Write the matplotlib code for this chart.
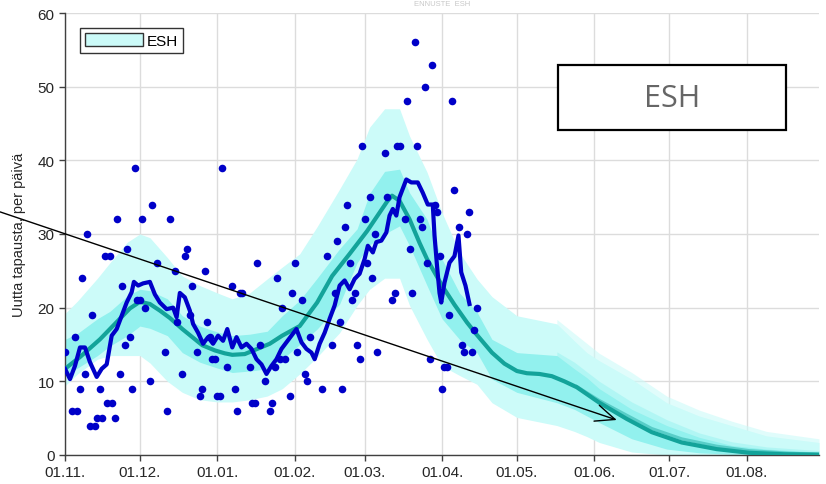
"""ESH daily case forecast chart (recreated)."""

import matplotlib

matplotlib.use("Agg")
import matplotlib.pyplot as plt
from matplotlib.patches import Patch, Rectangle

# days counted from 01.11.
tick_days = [0, 30, 61, 92, 120, 151, 181, 212, 242, 273]
tick_labels = ["01.11.", "01.12.", "01.01.", "01.02.", "01.03.",
               "01.04.", "01.05.", "01.06.", "01.07.", "01.08."]

# observed daily cases
obs_days = [0, 3, 4, 5, 6, 7, 8, 9, 10, 11, 12, 13, 14, 15, 16, 17, 18, 19, 20,
            21, 22, 23, 24, 25, 26, 27, 28, 29, 30, 31, 32, 34, 35, 37, 40, 41,
            42, 44, 45, 47, 48, 49, 50, 51, 53, 54, 55, 56, 57, 58, 59, 60, 61,
            62, 63, 65, 67, 68, 69, 70, 71, 74, 75, 76, 77, 78, 80, 82, 83, 84,
            85, 86, 87, 88, 90, 91, 92, 93, 95, 96, 97, 98, 103, 105, 107, 108,
            109, 110, 111, 112, 113, 114, 115, 116, 117, 118, 119, 120, 121,
            122, 123, 124, 125, 128, 129, 131, 132, 133, 134, 136, 137, 138,
            139, 140, 141, 142, 143, 144, 145, 146, 147, 148, 149, 150, 151,
            152, 153, 154, 155, 156, 158, 159, 160, 161, 162, 163, 164, 165]
obs_cases = [14, 6, 16, 6, 9, 24, 11, 30, 4, 19, 4, 5, 9, 5, 27, 7, 27, 7, 5,
             32, 11, 23, 15, 28, 16, 9, 39, 21, 21, 32, 20, 10, 34, 26, 14, 6,
             32, 25, 18, 11, 27, 28, 19, 23, 14, 8, 9, 25, 18, 16, 13, 13, 8,
             8, 39, 12, 23, 9, 6, 22, 22, 12, 7, 7, 26, 15, 10, 6, 7, 12,
             24, 13, 20, 13, 8, 22, 26, 14, 21, 11, 10, 16, 9, 27, 15, 22,
             29, 18, 9, 31, 34, 26, 21, 22, 15, 13, 42, 32, 26,
             35, 24, 30, 14, 41, 35, 21, 22, 42, 42, 32, 48, 28,
             22, 56, 42, 32, 31, 50, 26, 13, 53, 34, 33, 27, 9,
             12, 12, 19, 48, 36, 31, 15, 14, 30, 33, 14, 17, 20]

# 7-day mean of observations
avg_days = [0, 2, 4, 6, 8, 10, 12.7, 14.7, 16.7, 18.7, 20.7, 22.7, 24.7, 26.7,
            27.6, 29.3, 31.3, 34, 36, 38, 40.7, 43.3, 44.7, 46, 48, 50, 51.3,
            53.3, 55.3, 57.3, 59.3, 61.3, 63.3, 65, 67, 68.7, 70.7, 72.7, 74.7,
            76.7, 78.7, 80.7, 82.7, 84.7, 86.7, 88.7, 90.7, 92.7, 94.7, 96.7,
            98.7, 100, 102, 104, 106, 108, 110, 112, 114, 116, 118, 120, 121.3,
            123.3, 124.7, 126.7, 128.7, 130, 131.3, 132.7, 134, 136.7, 138.7,
            141.3, 143.3, 145.3, 147.3, 148, 149, 150, 150.7, 152, 154, 156,
            157.6, 158.7, 160.4, 162]
avg_cases = [11.7, 10.3, 12.1, 14.6, 14.6, 12.6, 10.6, 11.7, 12.3, 16.2, 17.1,
             18.9, 20.7, 22.1, 23.5, 23.0, 23.3, 23.5, 21.8, 20.7, 19.8, 20.0,
             18.7, 22.0, 21.4, 19.6, 17.8, 16.6, 15.1, 16.0, 15.1, 16.2, 15.5,
             17.1, 14.6, 16.0, 14.6, 15.1, 14.4, 13.0, 12.3, 11.0, 12.1, 13.0,
             14.4, 15.3, 16.2, 17.1, 15.3, 14.4, 13.9, 13.0, 15.1, 16.6, 18.5,
             20.3, 23.0, 23.7, 22.5, 23.9, 24.6, 26.6, 28.4, 27.5, 28.9, 29.1,
             30.2, 32.5, 33.4, 32.5, 35.0, 37.4, 37.0, 37.0, 35.6, 34.0, 34.0,
             29.8, 25.7, 22.0, 20.7, 23.4, 26.1, 27.0, 29.8, 24.8, 23.0, 20.5]

# model median
med_days = [0, 6, 14, 22, 26, 30, 34, 38, 42, 47, 51, 55, 60, 64, 67, 72, 77,
            82, 87, 94, 101, 107, 114, 121, 126, 129, 131, 134, 138, 142, 145,
            151, 156, 161, 165, 171, 176, 181, 185, 190, 195, 200, 205, 214,
            225, 235, 247, 261, 274, 288, 302]
med_cases = [11.7, 13.3, 15.7, 18.5, 19.9, 20.8, 20.5, 19.6, 18.6, 17.1, 16.0,
             14.9, 14.2, 13.8, 13.6, 13.7, 14.4, 15.1, 16.2, 17.5, 20.7, 24.3,
             27.3, 30.4, 32.9, 34.4, 35.2, 34.5, 32.0, 28.8, 26.6, 23.0, 20.4,
             18.0, 16.3, 13.9, 12.4, 11.4, 11.1, 11.0, 10.7, 10.0, 9.2, 7.1,
             4.9, 3.1, 1.7, 0.8, 0.3, 0.1, 0.05]

# second model run (tail only)
alt_days = [205, 214, 225, 235, 247, 261, 274, 290, 302]
alt_cases = [9.3, 7.4, 5.4, 3.6, 2.2, 1.2, 0.6, 0.25, 0.1]

# uncertainty bands
band_days = [0, 5, 13, 18, 25, 30, 34, 41, 47, 54, 61, 67, 74, 81, 87, 94,
             101, 110, 117, 122, 128, 134, 138, 145, 151, 158, 165, 171, 181,
             197, 204, 209, 214, 227, 241, 254, 267, 281, 302]
outer_hi = [19.2, 20.9, 24.0, 26.1, 28.9, 30.0, 29.5, 26.8, 24.3, 23.0, 22.0,
            21.2, 22.0, 23.9, 25.5, 27.3, 31.0, 36.1, 40.2, 44.5, 47.0, 47.0,
            43.3, 38.4, 32.9, 27.5, 23.9, 21.5, 18.9, 17.8, 15.5, 13.9, 12.8,
            10.3, 7.1, 5.3, 4.0, 2.6, 1.7]
outer_lo = [9.4, 11.0, 13.0, 13.5, 13.5, 13.5, 12.5, 10.0, 8.5, 7.5, 7.2,
            7.2, 7.5, 8.0, 9.0, 11.0, 13.3, 16.6, 20.3, 22.5, 24.0, 24.0,
            20.3, 15.7, 12.1, 10.8, 9.6, 7.1, 5.1, 4.0, 3.2, 2.5, 1.7, 0.4,
            0.0, 0.0, 0.0, 0.0, 0.0]
inner_hi = [15.7, 16.5, 18.5, 19.5, 21.6, 22.5, 22.3, 21.2, 18.9, 17.5, 16.7,
            16.2, 16.4, 16.8, 18.9, 21.0, 24.0, 28.0, 30.7, 35.5, 38.5, 38.8,
            35.6, 32.0, 26.6, 22.0, 19.4, 15.7, 13.9, 13.5, 11.7, 10.5, 9.0,
            6.2, 4.0, 2.4, 1.3, 0.8, 0.4]
inner_lo = [10.8, 11.8, 13.5, 14.8, 16.2, 17.5, 17.2, 16.2, 13.9, 12.6, 11.8,
            11.2, 11.4, 11.7, 13.0, 15.0, 17.1, 20.5, 26.1, 28.5, 30.0, 31.1,
            28.4, 23.0, 18.5, 15.7, 13.9, 10.3, 8.5, 7.1, 6.2, 5.3, 4.4, 2.2,
            0.8, 0.3, 0.1, 0.0, 0.0]

# second run bands (tail only)
alt_band_days = [197, 204, 214, 227, 241, 254, 267, 281, 302]
alt_outer_hi = [18.4, 16.5, 13.8, 11.2, 8.0, 6.1, 4.6, 3.2, 2.2]
alt_outer_lo = [4.6, 3.8, 2.4, 0.9, 0.2, 0.0, 0.0, 0.0, 0.0]
alt_inner_hi = [14.0, 12.6, 10.0, 7.2, 4.8, 3.0, 1.8, 1.1, 0.6]
alt_inner_lo = [7.6, 7.0, 5.3, 3.0, 1.3, 0.5, 0.2, 0.0, 0.0]

light_cyan = "#ccfbf9"
mid_cyan = "#92f1ee"
teal = "#13a39a"
blue = "#0000c8"

plt.rcParams["font.family"] = ["Liberation Sans", "DejaVu Sans"]

fig = plt.figure(figsize=(8.26, 4.85), dpi=100)
ax = fig.add_axes([65 / 826, 29 / 485, 754 / 826, 442 / 485])

ax.fill_between(band_days, outer_lo, outer_hi, color=light_cyan, lw=0, zorder=1)
ax.fill_between(alt_band_days, alt_outer_lo, alt_outer_hi, color=light_cyan,
                alpha=0.6, lw=0, zorder=1)
ax.fill_between(band_days, inner_lo, inner_hi, color=mid_cyan, lw=0, zorder=2)
ax.fill_between(alt_band_days, alt_inner_lo, alt_inner_hi, color=mid_cyan,
                alpha=0.45, lw=0, zorder=2)

ax.plot(alt_days, alt_cases, color=teal, lw=2.2, alpha=0.45, zorder=3)
ax.plot(med_days, med_cases, color=teal, lw=3, zorder=3,
        solid_capstyle="round", solid_joinstyle="round")
ax.plot(avg_days, avg_cases, color=blue, lw=3, zorder=4,
        solid_joinstyle="round")
ax.scatter(obs_days, obs_cases, s=30, color=blue, lw=0, zorder=5)

ax.annotate("", xy=(221, 4.75), xytext=(-26, 33.0),
            arrowprops=dict(arrowstyle="->,head_length=0.7,head_width=0.3",
                            color="black", lw=1, mutation_scale=20,
                            shrinkA=0, shrinkB=0),
            annotation_clip=False, zorder=6)

ax.set_xlim(0, 302)
ax.set_ylim(0, 60)
ax.set_xticks(tick_days)
ax.set_xticklabels(tick_labels)
ax.set_yticks(range(0, 61, 10))
ax.tick_params(axis="both", direction="out", length=4, width=1,
               color="#404040", labelsize=11, labelcolor="#262626")
ax.grid(True, color="#dcdcdc", lw=1)
ax.set_axisbelow(True)
for side in ("top", "right"):
    ax.spines[side].set_visible(False)
for side in ("left", "bottom"):
    ax.spines[side].set_color("#404040")
    ax.spines[side].set_linewidth(1)
ax.set_ylabel("Uutta tapausta, per päivä", fontsize=10.5, color="#262626",
              labelpad=8)

handle = Patch(facecolor=light_cyan, edgecolor="#333333", lw=1)
leg = ax.legend([handle], ["ESH"], loc="upper left", fontsize=11,
                bbox_to_anchor=(15 / 754, 1 - 15 / 442), borderaxespad=0,
                handlelength=3.8, handleheight=0.9, handletextpad=0.2,
                borderpad=0.35, fancybox=False, framealpha=1,
                edgecolor="#333333")
leg.get_frame().set_linewidth(1)

ax.add_patch(Rectangle((0.654, 0.735), 0.302, 0.147, transform=ax.transAxes,
                       facecolor="white", edgecolor="black", lw=1.6, zorder=7))
ax.text(0.805, 0.808, "ESH", transform=ax.transAxes, ha="center", va="center",
        fontsize=22, color="#666666", family=["Open Sans", "DejaVu Sans"],
        zorder=8)

# faint title squeezed into the strip above the axes
fig.text(0.535, 1 - 1 / 485, "ENNUSTE  ESH", ha="center", va="top",
         fontsize=5.5, color="#c8c8c8")

fig.savefig("out.png", dpi=100)
